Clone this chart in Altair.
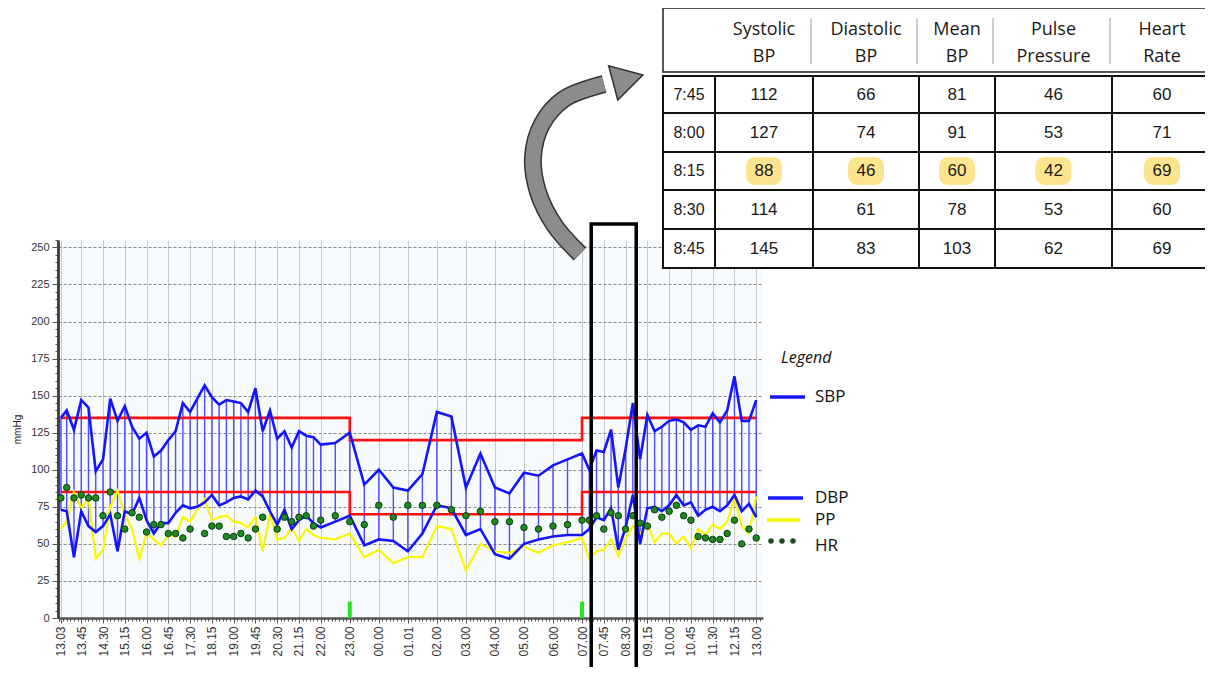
import json
import altair as alt
import pandas as pd

# ---------------------------------------------------------------- data
TIMES = ["13:03", "13:15", "13:30", "13:45", "14:00", "14:15", "14:30", "14:45", "15:00", "15:15",
         "15:30", "15:45", "16:00", "16:15", "16:30", "16:45", "17:00", "17:15", "17:30", "17:45",
         "18:00", "18:15", "18:30", "18:45", "19:00", "19:15", "19:30", "19:45", "20:00", "20:15",
         "20:30", "20:45", "21:00", "21:15", "21:30", "21:45", "22:00", "22:30", "23:00",
         "23:30", "00:00", "00:30", "01:00", "01:30", "02:00", "02:30", "03:00", "03:30", "04:00",
         "04:30", "05:00", "05:30", "06:00", "06:30", "07:00",
         "07:15", "07:30", "07:45", "08:00", "08:15", "08:30", "08:45", "09:00", "09:15", "09:30",
         "09:45", "10:00", "10:15", "10:30", "10:45", "11:00", "11:15", "11:30", "11:45", "12:00",
         "12:15", "12:30", "12:45", "13:00"]

SBP = [135, 140, 127, 147, 142, 99, 107, 148, 133, 143, 129, 121, 125, 109, 113, 120, 126, 145, 139, 148,
       157, 149, 144, 147, 146, 145, 139, 155, 126, 140, 121, 126, 115, 126, 123, 122, 117, 118, 125,
       90, 100, 88, 86, 97, 139, 136, 88, 111, 88, 84, 98, 96, 103, 107, 111,
       100, 113, 112, 127, 88, 114, 145, 107, 137, 126, 129, 133, 134, 132, 127, 130, 129, 138, 132, 140,
       163, 133, 133, 147]

DBP = [73, 72, 41, 72, 62, 58, 62, 70, 45, 72, 70, 81, 66, 57, 64, 64, 71, 76, 74, 75,
       78, 83, 76, 78, 81, 82, 80, 86, 82, 72, 63, 73, 60, 66, 69, 64, 61, 65, 69,
       49, 53, 52, 45, 57, 76, 74, 56, 60, 43, 40, 50, 53, 55, 56, 56,
       60, 68, 66, 74, 46, 61, 83, 50, 74, 75, 72, 76, 83, 76, 78, 69, 73, 75, 72, 76,
       83, 72, 77, 68]

PP = [60, 65, 85, 74, 81, 40, 46, 75, 86, 70, 60, 40, 57, 53, 49, 56, 55, 68, 65, 73,
      80, 66, 68, 69, 65, 64, 61, 68, 45, 70, 53, 54, 61, 52, 60, 56, 54, 53, 57,
      41, 46, 37, 41, 41, 62, 60, 32, 50, 45, 44, 48, 44, 49, 51, 54,
      40, 45, 46, 53, 42, 53, 62, 57, 63, 51, 57, 57, 50, 55, 47, 60, 56, 63, 60, 65,
      81, 62, 57, 82]

HR = [81, 88, 81, 83, 81, 81, 69, 85, 69, 60, 71, 68, 58, 63, 63, 57, 57, 54, 60, None,
      57, 62, 62, 55, 55, 57, 54, 60, 68, None, 60, 68, 65, 68, 69, 62, 66, 69, 65,
      63, 76, 68, 76, 76, 76, 73, 69, 72, 65, 65, 61, 60, 62, 63, 66,
      66, 69, 60, 71, 69, 60, 69, 64, 62, 73, 68, 72, 76, 69, 66, 55, 54, 53, 53, 57,
      66, 50, 60, 54]

TICK_LABEL_TIMES = ["13:03", "13:45", "14:30", "15:15", "16:00", "16:45", "17:30", "18:15", "19:00",
                    "19:45", "20:30", "21:15", "22:00", "23:00", "00:00", "01:01", "02:00", "03:00",
                    "04:00", "05:00", "06:00", "07:00", "07:45", "08:30", "09:15", "10:00", "10:45",
                    "11:30", "12:15", "13:00"]

LIMIT_TIMES = ["13:03", "23:00", "07:00", "13:00"]
SBP_LIMITS = [135, 120, 135, 135]
DBP_LIMITS = [85, 70, 85, 85]

EVENT_TIMES = ["23:00", "07:00"]
EVENT_LEVEL = [11, 11]
HIGHLIGHT_WINDOW = ["07:19", "08:52"]

TABLE_TIMES = ["7:45", "8:00", "8:15", "8:30", "8:45"]
TABLE_HEAD_1 = ["Systolic", "Diastolic", "Mean", "Pulse", "Heart"]
TABLE_HEAD_2 = ["BP", "BP", "BP", "Pressure", "Rate"]
TABLE_SBP = [112, 127, 88, 114, 145]
TABLE_DBP = [66, 74, 46, 61, 83]
TABLE_MBP = [81, 91, 60, 78, 103]
TABLE_PP = [46, 53, 42, 53, 62]
TABLE_HR = [60, 71, 69, 60, 69]
TABLE_HIGHLIGHT = "8:15"

LEGEND_TITLE = "Legend"
LEGEND_LABELS = ["SBP", "DBP", "PP", "HR"]

# ---------------------------------------------------------------- helpers


def to_minutes(t, after=None):
    h, m = (int(v) for v in t.split(":"))
    v = h * 60 + m - 13 * 60
    if v < 0:
        v += 1440
    if after is not None and v < after:
        v += 1440
    return v


def sequence(times):
    out, prev = [], None
    for t in times:
        v = to_minutes(t, prev)
        out.append(v)
        prev = v
    return out


t_series = sequence(TIMES)
df = pd.DataFrame({"t": t_series, "SBP": SBP, "DBP": DBP, "PP": PP, "HR": HR})
limits = pd.DataFrame({"t": sequence(LIMIT_TIMES), "sbp_lim": SBP_LIMITS, "dbp_lim": DBP_LIMITS})
events = pd.DataFrame({"t": sequence(EVENT_TIMES), "lvl": EVENT_LEVEL})
hw = sequence(HIGHLIGHT_WINDOW)
box = pd.DataFrame({"t0": [hw[0]], "t1": [hw[1]]})

label_minutes = sequence(TICK_LABEL_TIMES)

# ---------------------------------------------------------------- style / layout
BLUE = "#1414ff"
RULE_BLUE = "#3a3aff"
RED = "#ff1010"
YELLOW = "#f8f800"
GREEN_FILL = "#1f8a1f"
GREEN_EDGE = "#0b3a0b"

W, H = 705, 378
X_DOMAIN = [-3, 1454]
ORIGIN_X, ORIGIN_Y = 58, 240

minor = [i * 7.5 for i in range(0, 195) if X_DOMAIN[0] <= i * 7.5 <= X_DOMAIN[1]]
x_values = sorted(set(label_minutes) | set(m for m in minor if m not in label_minutes))
major_test = "indexof(%s, datum.value) >= 0" % json.dumps(label_minutes)

x_scale = alt.Scale(domain=X_DOMAIN, nice=False, zero=False)
x_axis = alt.Axis(
    values=x_values,
    labelExpr="(%s) ? format((floor(datum.value / 60) + 13) %% 24, '02d') + '.' + format(datum.value %% 60, '02d') : ''" % major_test,
    labelAngle=270, labelFontSize=12, labelFont="Liberation Sans", labelColor="#333333",
    labelOverlap=False, labelPadding=3, labelFlush=False,
    tickColor="#555555", tickWidth=1,
    tickSize={"condition": {"test": major_test, "value": 5}, "value": 3},
    grid=True, gridColor="#c9c9c9", gridWidth=1,
    gridOpacity={"condition": {"test": major_test, "value": 1}, "value": 0},
    domainColor="#555555", domainWidth=2.5, title="")

y_vals = list(range(0, 256, 5))
y_scale = alt.Scale(domain=[0, 255], nice=False, zero=True)
y_axis = alt.Axis(
    values=y_vals,
    labelExpr="datum.value % 25 == 0 ? datum.label : ''",
    labelFontSize=11, labelFont="Liberation Sans", labelColor="#333333", labelOverlap=False,
    labelPadding=3,
    tickColor="#555555",
    tickSize={"condition": {"test": "datum.value % 25 == 0", "value": 6}, "value": 3},
    grid=True, gridColor="#8a8a8a", gridDash=[3, 2], gridWidth=1,
    gridOpacity={"condition": {"test": "datum.value % 25 == 0", "value": 1}, "value": 0},
    domainColor="#444444", domainWidth=3,
    title="mmHg", titleFontSize=10, titleFontWeight="normal", titleFont="Liberation Sans",
    titleColor="#222222", titlePadding=8)

X = alt.X("t:Q", scale=x_scale, axis=x_axis)


def Y(field):
    return alt.Y(field, scale=y_scale, axis=y_axis, title="mmHg")


base = alt.Chart(df)

rules = base.mark_rule(color=RULE_BLUE, strokeWidth=1.4, opacity=0.9).encode(x=X, y=Y("DBP:Q"), y2="SBP:Q")
lim_s = alt.Chart(limits).mark_line(interpolate="step-after", color=RED, strokeWidth=2.6).encode(x=X, y=Y("sbp_lim:Q"))
lim_d = alt.Chart(limits).mark_line(interpolate="step-after", color=RED, strokeWidth=2.6).encode(x=X, y=Y("dbp_lim:Q"))
ev = alt.Chart(events).mark_rule(color="#22e822", strokeWidth=4).encode(x=X, y=Y("lvl:Q"), y2=alt.datum(0))
pp_line = base.mark_line(color=YELLOW, strokeWidth=2.2).encode(x=X, y=Y("PP:Q"))
dbp_line = base.mark_line(color=BLUE, strokeWidth=2.6).encode(x=X, y=Y("DBP:Q"))
sbp_line = base.mark_line(color=BLUE, strokeWidth=2.6).encode(x=X, y=Y("SBP:Q"))
hr_pts = base.mark_point(shape="circle", filled=True, fill=GREEN_FILL, stroke=GREEN_EDGE,
                         strokeWidth=1, size=42, opacity=1).encode(x=X, y=Y("HR:Q"))
hbox = alt.Chart(box).mark_rect(fillOpacity=0, stroke="#000000", strokeWidth=3.5).encode(
    x=alt.X("t0:Q", scale=x_scale, axis=x_axis), x2="t1:Q", y=alt.value(-16), y2=alt.value(440))

main = alt.layer(rules, lim_s, lim_d, ev, pp_line, dbp_line, sbp_line, hr_pts, hbox)

# ---------------------------------------------------------------- overlay (table, arrow, legend)
PX = alt.Scale(domain=[0, 1000], range=[0, 1000], nice=False, zero=False)


def rx(v):
    return v - ORIGIN_X


def ry(v):
    return v - ORIGIN_Y


COL_EDGES = [663, 715, 813, 919, 995, 1112, 1212]
HEADER_Y = [8, 72]
ROW_EDGES = [76, 113, 152, 190, 229, 268]

header_box = pd.DataFrame({"x0": [rx(COL_EDGES[0])], "x1": [rx(COL_EDGES[-1])],
                           "y0": [ry(HEADER_Y[0])], "y1": [ry(HEADER_Y[1])]})
cells = []
for r in range(len(TABLE_TIMES)):
    for c in range(6):
        cells.append({"x0": rx(COL_EDGES[c]), "x1": rx(COL_EDGES[c + 1]),
                      "y0": ry(ROW_EDGES[r]), "y1": ry(ROW_EDGES[r + 1])})
cells = pd.DataFrame(cells)

sep_x = [rx(e) - 2 for e in COL_EDGES[2:-1]]
seps = pd.DataFrame({"x": sep_x,
                     "y0": [ry(HEADER_Y[0] + 10)] * len(sep_x), "y1": [ry(HEADER_Y[1] - 8)] * len(sep_x)})

heads = []
for c in range(5):
    cx = (rx(COL_EDGES[c + 1]) + rx(COL_EDGES[c + 2])) / 2
    heads.append({"cx": cx, "cy": ry(30), "label": TABLE_HEAD_1[c]})
    heads.append({"cx": cx, "cy": ry(57), "label": TABLE_HEAD_2[c]})
heads = pd.DataFrame(heads)

cols = [TABLE_SBP, TABLE_DBP, TABLE_MBP, TABLE_PP, TABLE_HR]
vals, times_txt, hi = [], [], []
for r, tt in enumerate(TABLE_TIMES):
    cy = (ry(ROW_EDGES[r]) + ry(ROW_EDGES[r + 1])) / 2
    times_txt.append({"cx": (rx(COL_EDGES[0]) + rx(COL_EDGES[1])) / 2, "cy": cy, "label": tt})
    for c, col in enumerate(cols):
        cx = (rx(COL_EDGES[c + 1]) + rx(COL_EDGES[c + 2])) / 2
        vals.append({"cx": cx, "cy": cy, "label": str(col[r])})
        if tt == TABLE_HIGHLIGHT:
            hi.append({"x0": cx - 18, "x1": cx + 18, "y0": cy - 14, "y1": cy + 14})
vals = pd.DataFrame(vals)
times_txt = pd.DataFrame(times_txt)
hi = pd.DataFrame(hi)


def PXX(f):
    return alt.X(f, scale=PX, axis=None)


def PXY(f):
    return alt.Y(f, scale=PX, axis=None)


t_header = alt.Chart(header_box).mark_rect(fill="white", stroke="#222222", strokeWidth=1.5).encode(
    x=PXX("x0:Q"), x2="x1:Q", y=PXY("y0:Q"), y2="y1:Q")
t_cells = alt.Chart(cells).mark_rect(fill="white", stroke="#111111", strokeWidth=2).encode(
    x=PXX("x0:Q"), x2="x1:Q", y=PXY("y0:Q"), y2="y1:Q")
t_seps = alt.Chart(seps).mark_rule(color="#9a9a9a", strokeWidth=1).encode(
    x=PXX("x:Q"), y=PXY("y0:Q"), y2="y1:Q")
t_hi = alt.Chart(hi).mark_rect(fill="#fde58f", cornerRadius=9).encode(
    x=PXX("x0:Q"), x2="x1:Q", y=PXY("y0:Q"), y2="y1:Q")
t_heads = alt.Chart(heads).mark_text(font="Open Sans", fontSize=18, color="#1a1a1a",
                                     align="center", baseline="middle").encode(
    x=PXX("cx:Q"), y=PXY("cy:Q"), text="label:N")
t_vals = alt.Chart(vals).mark_text(font="Liberation Sans", fontSize=17, color="#1a1a1a",
                                   align="center", baseline="middle").encode(
    x=PXX("cx:Q"), y=PXY("cy:Q"), text="label:N")
t_times = alt.Chart(times_txt).mark_text(font="Liberation Sans", fontSize=16, color="#1a1a1a",
                                         align="center", baseline="middle").encode(
    x=PXX("cx:Q"), y=PXY("cy:Q"), text="label:N")

# curved arrow (decoration)
ARROW_PATH = [(580, 254), (555, 226), (538, 192), (533, 157), (542, 124), (564, 99), (604, 84)]
arrow = pd.DataFrame({"i": list(range(len(ARROW_PATH))),
                      "x": [rx(p[0]) for p in ARROW_PATH], "y": [ry(p[1]) for p in ARROW_PATH]})
arrow_edge = alt.Chart(arrow).mark_line(interpolate="catmull-rom", color="#333333", strokeWidth=18,
                                        strokeCap="butt").encode(
    x=PXX("x:Q"), y=PXY("y:Q"), order="i:Q")
arrow_body = alt.Chart(arrow).mark_line(interpolate="catmull-rom", color="#8c8c8c", strokeWidth=15,
                                        strokeCap="butt").encode(
    x=PXX("x:Q"), y=PXY("y:Q"), order="i:Q")
head = pd.DataFrame({"x": [rx(628)], "y": [ry(79)]})
arrow_head = alt.Chart(head).mark_point(shape="triangle-right", filled=True, fill="#8c8c8c",
                                        stroke="#333333", strokeWidth=1.5, size=1250, angle=345,
                                        opacity=1).encode(x=PXX("x:Q"), y=PXY("y:Q"))

# legend (decoration)
LEG_Y = [397, 498, 520, 546]
leg_title = alt.Chart(pd.DataFrame({"x": [rx(781)], "y": [ry(358)], "label": [LEGEND_TITLE]})).mark_text(
    font="Open Sans", fontSize=16, fontStyle="italic", color="#111111", align="left",
    baseline="middle").encode(x=PXX("x:Q"), y=PXY("y:Q"), text="label:N")
leg_text = alt.Chart(pd.DataFrame({"x": [rx(815)] * 4, "y": [ry(v) for v in LEG_Y],
                                   "label": LEGEND_LABELS})).mark_text(
    font="Open Sans", fontSize=17, color="#111111", align="left", baseline="middle").encode(
    x=PXX("x:Q"), y=PXY("y:Q"), text="label:N")
leg_lines = alt.Chart(pd.DataFrame({"x0": [rx(770), rx(768), rx(767)], "x1": [rx(805), rx(803), rx(800)],
                                    "y": [ry(v) for v in LEG_Y[:3]],
                                    "s": LEGEND_LABELS[:3]})).mark_rule(strokeWidth=3.5).encode(
    x=PXX("x0:Q"), x2="x1:Q", y=PXY("y:Q"),
    color=alt.Color("s:N", scale=alt.Scale(domain=LEGEND_LABELS[:3], range=[BLUE, "#1a1aff", YELLOW]), legend=None))
leg_dots = alt.Chart(pd.DataFrame({"x": [rx(771), rx(782), rx(793)], "y": [ry(541)] * 3})).mark_circle(
    size=30, color="#1d4a1d", opacity=1).encode(x=PXX("x:Q"), y=PXY("y:Q"))

overlay = alt.layer(arrow_edge, arrow_body, arrow_head, t_header, t_seps, t_cells, t_hi, t_heads,
                    t_vals, t_times, leg_title, leg_text, leg_lines, leg_dots)

chart = alt.layer(main, overlay).resolve_scale(x="independent", y="independent").properties(
    width=W, height=H,
    autosize=alt.AutoSizeParams(type="none"),
    padding={"left": 50, "top": 232, "right": 442, "bottom": 49},
).configure_view(strokeWidth=0, fill="#f7fbfd")

chart.save("out.html", embed_options={"renderer": "svg", "actions": False})
